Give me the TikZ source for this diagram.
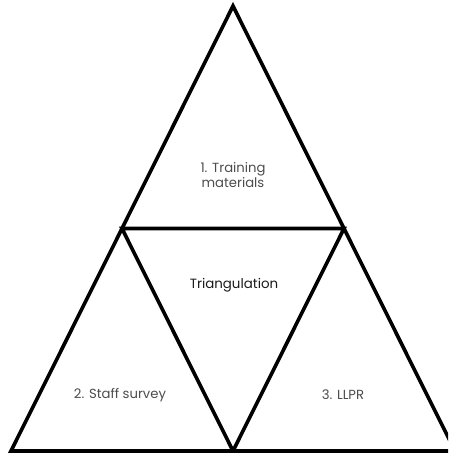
\documentclass[tikz,border=0pt]{standalone}
\usepackage{fontspec}
\setmainfont{Poppins}
\begin{document}
\begin{tikzpicture}[x=1pt,y=1pt,
  edge/.style={line width=3.6pt, line join=miter, black},
  lbl/.style={font=\fontsize{13.2}{14.5}\selectfont, text=black!70, align=center, inner sep=0pt},
  mainlbl/.style={font=\fontsize{13.4}{15}\selectfont, text=black!90, align=center, inner sep=0pt}]
\useasboundingbox (0,0) rectangle (448,453);
\clip (0,0) rectangle (448,453);
\coordinate (apex) at (233,447);
\coordinate (bl) at (11,2);
\coordinate (br) at (455,2);
\coordinate (ml) at (122,224.5);
\coordinate (mr) at (344,224.5);
\coordinate (mb) at (233,2);
\draw[edge] (apex) -- (bl) -- (br) -- cycle;
\draw[edge] (ml) -- (mr) -- (mb) -- cycle;
\node[lbl] (t1) at (233,278) {1. Training\\materials};
\node[mainlbl] (t0) at (234,168) {Triangulation};
\node[lbl] (t2) at (120,58) {2. Staff survey};
\node[lbl] (t3) at (343,58) {3. LLPR};
\end{tikzpicture}
\end{document}
